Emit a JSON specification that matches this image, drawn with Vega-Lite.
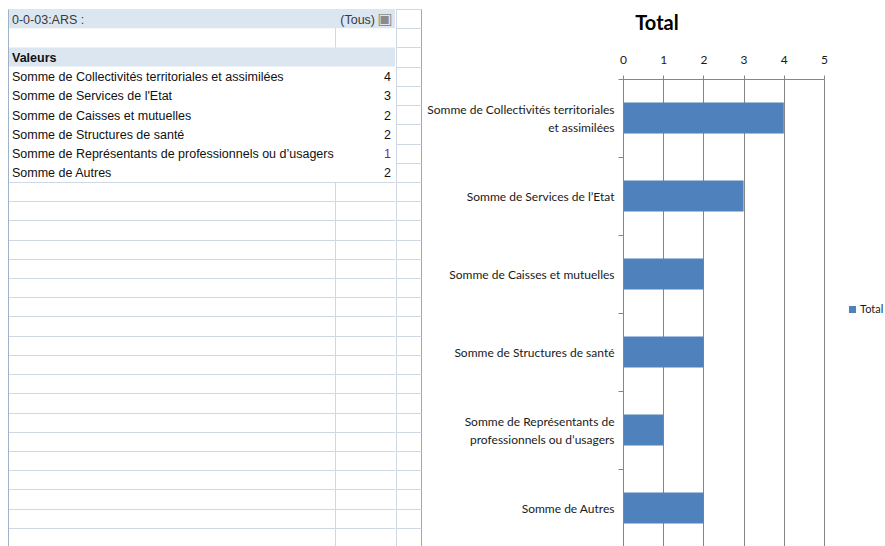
{
  "$schema": "https://vega.github.io/schema/vega-lite/v6.json",
  "padding": {"left": 8, "top": 8, "right": 0, "bottom": 0},
  "background": "#ffffff",
  "spacing": 0,
  "config": {
    "view": {"stroke": null},
    "font": "Liberation Sans"
  },
  "resolve": {"scale": {"x": "independent", "y": "independent", "color": "independent"}},
  "datasets": {
    "tableau": [
      {"ligne": 1, "libelle": "0-0-03:ARS :", "valeur": "(Tous)", "type": "filtre"},
      {"ligne": 3, "libelle": "Valeurs", "valeur": null, "type": "en-tête"},
      {"ligne": 4, "libelle": "Somme de Collectivités territoriales et assimilées", "valeur": 4, "type": "ligne"},
      {"ligne": 5, "libelle": "Somme de Services de l'Etat", "valeur": 3, "type": "ligne"},
      {"ligne": 6, "libelle": "Somme de Caisses et mutuelles", "valeur": 2, "type": "ligne"},
      {"ligne": 7, "libelle": "Somme de Structures de santé", "valeur": 2, "type": "ligne"},
      {"ligne": 8, "libelle": "Somme de Représentants de professionnels ou d’usagers", "valeur": 1, "type": "ligne"},
      {"ligne": 9, "libelle": "Somme de Autres", "valeur": 2, "type": "ligne"}
    ]
  },
  "hconcat": [
    {
      "width": 327,
      "height": 538,
      "data": {"name": "tableau"},
      "view": {"stroke": null},
      "encoding": {
        "y": {
          "field": "ligne", "type": "ordinal",
          "scale": {"domain": [1,2,3,4,5,6,7,8,9,10,11,12,13,14,15,16,17,18,19,20,21,22,23,24,25,26,27,28], "paddingInner": 0, "paddingOuter": 0},
          "axis": {"title": null, "labels": false, "ticks": false, "domain": true, "domainColor": "#9fb3c8", "grid": true, "gridColor": "#d0d7e5", "tickBand": "extent", "values": [10,11,12,13,14,15,16,17,18,19,20,21,22,23,24,25,26,27,28], "zindex": 1}
        }
      },
      "layer": [
        {
          "mark": {"type": "rect"},
          "encoding": {
            "color": {"field": "type", "type": "nominal", "scale": {"domain": ["filtre", "en-tête", "ligne"], "range": ["#dce6f1", "#dce6f1", "#ffffff"]}, "legend": null}
          }
        },
        {
          "transform": [{"filter": "datum.type != 'en-tête'"}],
          "mark": {"type": "text", "align": "left", "baseline": "middle", "dx": 4, "dy": 1, "fontSize": 12.5, "font": "Liberation Sans", "limit": 322, "ellipsis": ""},
          "encoding": {
            "x": {"datum": 0, "type": "quantitative", "scale": {"domain": [0, 1]}, "axis": null},
            "text": {"field": "libelle"},
            "color": {"condition": {"test": "datum.type == 'filtre'", "value": "#3a3a3a"}, "value": "#111111"}
          }
        },
        {
          "transform": [{"filter": "datum.type == 'en-tête'"}],
          "mark": {"type": "text", "align": "left", "baseline": "middle", "dx": 4, "dy": 1, "fontSize": 12.5, "fontWeight": "bold", "font": "Liberation Sans", "color": "#111111"},
          "encoding": {
            "x": {"datum": 0, "type": "quantitative", "scale": {"domain": [0, 1]}, "axis": null},
            "text": {"field": "libelle"}
          }
        }
      ]
    },
    {
      "width": 60,
      "height": 538,
      "data": {"name": "tableau"},
      "view": {"stroke": null},
      "encoding": {
        "y": {
          "field": "ligne", "type": "ordinal",
          "scale": {"domain": [1,2,3,4,5,6,7,8,9,10,11,12,13,14,15,16,17,18,19,20,21,22,23,24,25,26,27,28], "paddingInner": 0, "paddingOuter": 0},
          "axis": {"title": null, "labels": false, "ticks": false, "domain": true, "domainColor": "#d0d7e5", "grid": true, "gridColor": "#d0d7e5", "tickBand": "extent", "values": [10,11,12,13,14,15,16,17,18,19,20,21,22,23,24,25,26,27,28], "zindex": 0}
        }
      },
      "layer": [
        {
          "mark": {"type": "rect"},
          "encoding": {
            "color": {"field": "type", "type": "nominal", "scale": {"domain": ["filtre", "en-tête", "ligne"], "range": ["#dce6f1", "#dce6f1", "#ffffff"]}, "legend": null}
          }
        },
        {
          "transform": [{"filter": "datum.type == 'ligne'"}],
          "mark": {"type": "text", "align": "right", "baseline": "middle", "dx": -4, "dy": 1, "fontSize": 12.5, "font": "Liberation Sans"},
          "encoding": {
            "x": {"datum": 1, "type": "quantitative", "scale": {"domain": [0, 1]}, "axis": null},
            "text": {"field": "valeur"},
            "color": {"condition": {"test": "datum.valeur == 1", "value": "#7b1fa2"}, "value": "#111111"}
          }
        },
        {
          "transform": [{"filter": "datum.type == 'filtre'"}],
          "mark": {"type": "text", "align": "right", "baseline": "middle", "dx": -20, "dy": 1, "fontSize": 12.5, "font": "Liberation Sans", "color": "#3a3a3a"},
          "encoding": {
            "x": {"datum": 1, "type": "quantitative", "scale": {"domain": [0, 1]}, "axis": null},
            "text": {"field": "valeur"}
          }
        },
        {
          "transform": [{"filter": "datum.type == 'filtre'"}],
          "mark": {"type": "text", "align": "center", "baseline": "middle", "dx": -10, "dy": 0, "fontSize": 16, "font": "DejaVu Sans", "color": "#8a8a8a", "text": "▣"},
          "encoding": {
            "x": {"datum": 1, "type": "quantitative", "scale": {"domain": [0, 1]}, "axis": null}
          }
        }
      ]
    },
    {
      "width": 25,
      "height": 538,
      "data": {"name": "tableau"},
      "view": {"stroke": "#a6a6a6"},
      "mark": {"type": "text", "text": ""},
      "encoding": {
        "y": {
          "field": "ligne", "type": "ordinal",
          "scale": {"domain": [1,2,3,4,5,6,7,8,9,10,11,12,13,14,15,16,17,18,19,20,21,22,23,24,25,26,27,28], "paddingInner": 0, "paddingOuter": 0},
          "axis": {"title": null, "labels": false, "ticks": false, "domain": true, "domainColor": "#d0d7e5", "grid": true, "gridColor": "#d0d7e5", "tickBand": "extent", "zindex": 1}
        }
      }
    },
    {
      "width": 201,
      "height": 538,
      "data": {"name": "tableau"},
      "transform": [{"filter": "datum.type == 'ligne'"}],
      "view": {"stroke": null},
      "title": {"text": "Total", "font": "Lato", "fontSize": 20, "fontWeight": "bold", "color": "#000000", "anchor": "middle", "frame": "bounds", "offset": -25, "dx": 4},
      "mark": {"type": "bar", "height": {"band": 0.4}},
      "encoding": {
        "y": {
          "field": "libelle", "type": "nominal", "sort": null,
          "scale": {"range": [70, 538], "paddingInner": 0, "paddingOuter": 0},
          "axis": {
            "title": null, "orient": "left", "tickSize": 5, "tickColor": "#868686",
            "tickOffset": -39,
            "labelOffset": {"condition": {"test": "length(datum.value) > 40", "value": 30}, "value": 39},
            "domainColor": "#868686", "labelFont": "Lato", "labelFontSize": 12, "labelColor": "#1a1a1a",
            "labelPadding": 4, "labelLineHeight": 18, "labelLimit": 0, "minExtent": 201, "maxExtent": 201,
            "grid": false, "zindex": 1,
            "labelExpr": "datum.value == 'Somme de Collectivités territoriales et assimilées' ? ['Somme de Collectivités territoriales', 'et assimilées'] : datum.value == 'Somme de Représentants de professionnels ou d’usagers' ? ['Somme de Représentants de', 'professionnels ou d’usagers'] : replace(datum.value, \"'\", '’')"
          }
        },
        "x": {
          "field": "valeur", "type": "quantitative",
          "scale": {"domain": [0, 5], "nice": false},
          "axis": {
            "title": null, "orient": "top", "offset": -70, "values": [0, 1, 2, 3, 4, 5],
            "grid": true, "gridColor": "#868686", "domainColor": "#868686", "tickColor": "#868686",
            "tickSize": 4, "labelPadding": 9, "labelFont": "Lato", "labelFontSize": 12, "labelColor": "#1a1a1a",
            "labelFlush": false, "zindex": 0
          }
        },
        "color": {
          "datum": "Total",
          "scale": {"range": ["#4f81bd"]},
          "legend": {"orient": "none", "legendX": 224, "legendY": 295, "title": null, "symbolType": "square", "symbolSize": 50, "symbolStrokeWidth": 0, "labelFont": "Lato", "labelFontSize": 11, "labelColor": "#1a1a1a", "labelOffset": 2}
        }
      }
    }
  ]
}
